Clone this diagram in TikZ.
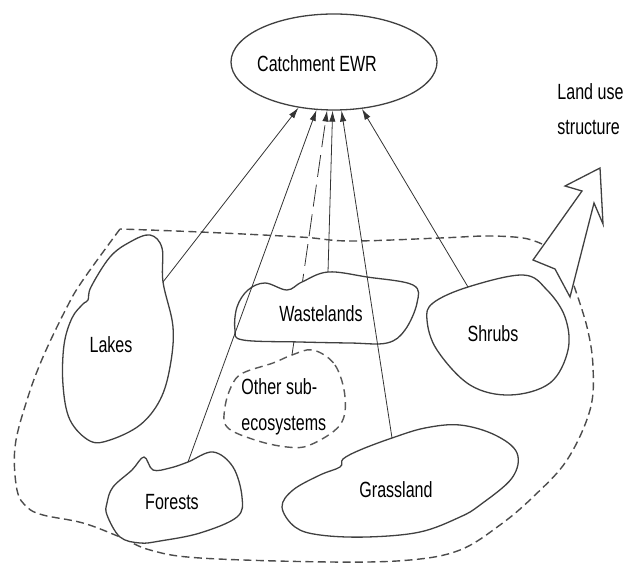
\documentclass[tikz,border=0pt]{standalone}
\usepackage{fontspec}
\setmainfont{Liberation Sans}[FakeStretch=0.73]
\usetikzlibrary{shapes.geometric,arrows.meta}

\begin{document}
\begin{tikzpicture}[x=0.5pt,y=-0.5pt,font=\fontsize{11}{13}\selectfont,
  blob/.style={draw=black!75,line width=0.65pt,fill=white},
  dashblob/.style={draw=black!65,line width=0.7pt,dash pattern=on 4pt off 2.5pt,fill=white},
  border/.style={draw=black!70,line width=0.7pt,dash pattern=on 4pt off 2.2pt},
  feed/.style={draw=black!80,line width=0.4pt,-{Latex[length=5.5pt,width=3.2pt]}},
  lbl/.style={inner sep=0pt,anchor=base}]

\useasboundingbox (0,0) rectangle (624,565);

\node[draw=black!75,line width=0.65pt,ellipse,minimum width=103pt,minimum height=48pt,inner sep=0pt] (ewr) at (334,62) {};
\node[lbl] (ewrtxt) at (317,72) {Catchment EWR};

\draw[border] plot[smooth,tension=0.6] coordinates {(542,244) (523,238) (487,236) (440,238) (350,241) (300,237) (200,232) (120,229)};
\draw[border] plot[smooth,tension=0.6] coordinates {(120,229) (83,280) (67,307) (43,357) (27,400) (15,447) (17,490) (27,507) (43,515) (83,523) (120,537) (150,550) (200,558) (330,562) (410,560) (460,550) (500,525) (533,497) (567,460) (590,410) (593,367) (587,327) (573,283)};

\coordinate (lakesE) at (163,282);
\coordinate (forestsN) at (188,462);
\coordinate (otherN) at (292,355);
\coordinate (wasteN) at (328,272);
\coordinate (grassN) at (392,438);
\coordinate (shrubsN) at (468,287);

\draw[dashblob] plot[smooth cycle,tension=0.6] coordinates {(313,350) (335,365) (345,397) (340,425) (310,445) (287,447) (255,440) (227,427) (225,407) (232,385) (243,373) (273,363) (292,355)};
\draw[feed,dash pattern=on 11pt off 4pt] (otherN) -- (ewr);

\draw[blob] plot[smooth cycle,tension=0.6] coordinates {(150,235) (162,248) (163,282) (173,327) (170,367) (160,400) (140,425) (110,440) (90,441) (70,420) (63,385) (64,345) (72,318) (83,304) (88,300) (91,287) (110,257) (130,242)};
\draw[blob] plot[smooth cycle,tension=0.6] coordinates {(265,283) (287,290) (302,282) (328,272) (367,277) (413,285) (417,303) (405,330) (387,343) (350,343) (300,342) (243,340) (235,330) (237,307) (248,290)};
\draw[blob] plot[smooth cycle,tension=0.6] coordinates {(144,457) (153,470) (170,468) (188,462) (213,452) (233,467) (242,497) (237,517) (200,533) (160,541) (140,543) (120,537) (107,515) (107,503) (113,487) (132,470)};
\draw[blob] plot[smooth cycle,tension=0.6] coordinates {(392,438) (425,428) (460,425) (495,435) (517,453) (512,478) (480,505) (460,517) (420,532) (367,537) (320,535) (295,527) (282,507) (293,490) (320,475) (340,467) (343,459) (360,450)};
\draw[blob] plot[smooth cycle,tension=0.6] coordinates {(468,287) (523,275) (547,290) (565,317) (568,350) (550,383) (510,395) (470,385) (437,350) (427,320) (433,303)};

\draw[blob] (600,168) -- (565,186) -- (582,191) -- (533,260) -- (555,269) -- (570,297) -- (594,203) -- (603,224) -- cycle;

\draw[feed] (lakesE) -- (ewr);
\draw[feed] (forestsN) -- (ewr);
\draw[feed] (wasteN) -- (ewr);
\draw[feed] (grassN) -- (ewr);
\draw[feed] (shrubsN) -- (ewr);

\node[lbl] (lakes) at (111,352) {Lakes};
\node[lbl] (forests) at (172,509) {Forests};
\node[lbl] (waste) at (321,322) {Wastelands};
\node[lbl] (grass) at (396,497) {Grassland};
\node[lbl] (shrubs) at (493,342) {Shrubs};
\node[lbl,anchor=base west] (other) at (241,394) {Other sub-};
\node[lbl,anchor=base west] (eco) at (241,430) {ecosystems};
\node[lbl,anchor=base west] (landuse) at (557,100) {Land use};
\node[lbl,anchor=base west] (struct) at (557,135) {structure};

\end{tikzpicture}
\end{document}
